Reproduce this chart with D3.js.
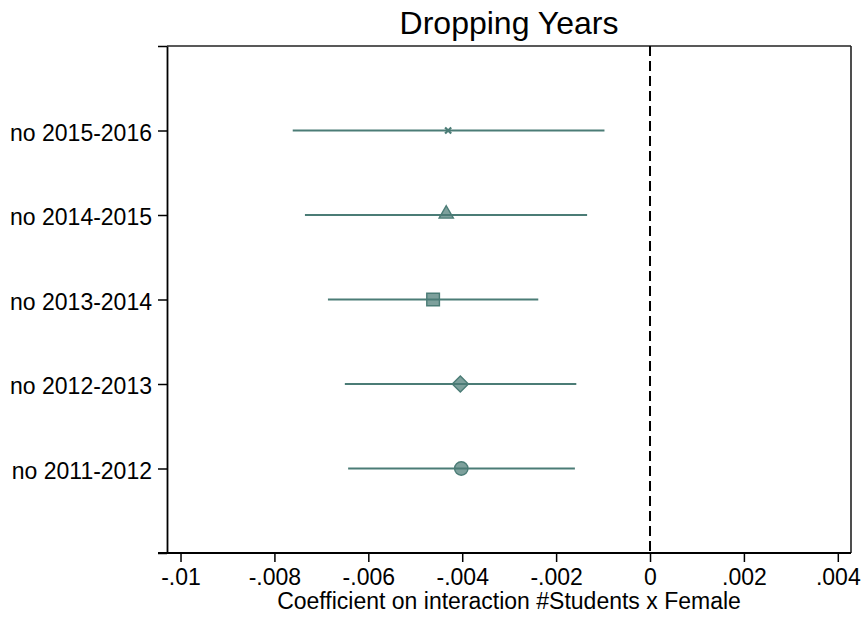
<!DOCTYPE html>
<html>
<head>
<meta charset="utf-8">
<script src="https://cdn.jsdelivr.net/npm/d3@7"></script>
<style>
  html, body { margin: 0; padding: 0; background: #fff; }
  svg { display: block; font-family: "Liberation Sans", Arial, Helvetica, sans-serif; }
</style>
</head>
<body>
<svg id="chart" width="865" height="618"></svg>
<script>
// ---- data ----
const categories = ["no 2011-2012", "no 2012-2013", "no 2013-2014", "no 2014-2015", "no 2015-2016"];
const estimates  = [-0.00402, -0.00404, -0.00462, -0.00434, -0.00430];
const lowerCI    = [-0.00643, -0.00650, -0.00686, -0.00735, -0.00761];
const upperCI    = [-0.00160, -0.00157, -0.00238, -0.00134, -0.00097];
const markerTypes = ["circle", "diamond", "square", "triangle", "x"];
const xTicks = [-0.01, -0.008, -0.006, -0.004, -0.002, 0, 0.002, 0.004];
const xTickLabels = ["-.01", "-.008", "-.006", "-.004", "-.002", "0", ".002", ".004"];
const title = "Dropping Years";
const xTitle = "Coefficient on interaction #Students x Female";

// ---- layout ----
const svg = d3.select("#chart");
const L = 167, R = 851, T = 46, B = 553;
const teal = "#4b7c76";
const FONT = "'Liberation Sans', Arial, sans-serif";

const x = d3.scaleLinear().domain([-0.010288, 0.004281]).range([L, R]);
const y = d3.scaleLinear().domain([0, 6]).range([B, T]);

const rows = categories.map((c, i) => ({
  label: c, pos: i + 1, est: estimates[i], lo: lowerCI[i], hi: upperCI[i], shape: markerTypes[i]
}));

// frame (top & right)
svg.append("line").attr("x1", L).attr("x2", R).attr("y1", T).attr("y2", T)
  .attr("stroke", "#222").attr("stroke-width", 1.6);
svg.append("line").attr("x1", R).attr("x2", R).attr("y1", T).attr("y2", B)
  .attr("stroke", "#222").attr("stroke-width", 1.6);

// x axis
const xAxis = d3.axisBottom(x).tickValues(xTicks)
  .tickFormat((d, i) => xTickLabels[i]).tickSizeInner(9).tickSizeOuter(0).tickPadding(7);
const gx = svg.append("g").attr("transform", `translate(0,${B})`).call(xAxis);
gx.select(".domain").attr("d", `M${L - 9},0H${R}`).attr("stroke", "#000").attr("stroke-width", 1.8);
gx.selectAll(".tick line").attr("stroke", "#000").attr("stroke-width", 1.5);
gx.selectAll(".tick text").attr("font-size", 23).attr("fill", "#000")
  .attr("font-family", FONT).attr("dy", "0.71em");

// y axis
const yAxis = d3.axisLeft(y).tickValues([0, 1, 2, 3, 4, 5, 6])
  .tickFormat(d => (d >= 1 && d <= 5) ? categories[d - 1] : "")
  .tickSizeInner(9).tickSizeOuter(0).tickPadding(6);
const gy = svg.append("g").attr("transform", `translate(${L},0)`).call(yAxis);
gy.select(".domain").attr("stroke", "#000").attr("stroke-width", 1.8);
gy.selectAll(".tick line").attr("stroke", "#000").attr("stroke-width", 1.5);
gy.selectAll(".tick text").attr("font-size", 23).attr("fill", "#000")
  .attr("font-family", FONT).attr("dy", "0.42em");

// zero reference line
svg.append("line")
  .attr("x1", x(0)).attr("x2", x(0)).attr("y1", y(6)).attr("y2", y(0))
  .attr("stroke", "#000").attr("stroke-width", 2).attr("stroke-dasharray", "10,5");

// CI lines
svg.append("g").selectAll("line").data(rows).join("line")
  .attr("x1", d => x(d.lo)).attr("x2", d => x(d.hi))
  .attr("y1", d => y(d.pos)).attr("y2", d => y(d.pos))
  .attr("stroke", teal).attr("stroke-width", 2.2);

// markers
const symbolFor = {
  circle: d3.symbol().type(d3.symbolCircle).size(140)(),
  square: d3.symbol().type(d3.symbolSquare).size(160)(),
  triangle: d3.symbol().type(d3.symbolTriangle).size(88)(),
  diamond: d3.symbol().type(d3.symbolSquare).size(130)(),
  x: (d3.symbolTimes ? d3.symbol().type(d3.symbolTimes).size(26)() : "M-3,-3L3,3M-3,3L3,-3")
};
svg.append("g").selectAll("path").data(rows).join("path")
  .attr("d", d => symbolFor[d.shape])
  .attr("transform", d => {
    let t = `translate(${x(d.est)},${y(d.pos) + (d.shape === "triangle" ? -1 : 0)})`;
    if (d.shape === "diamond") t += " rotate(45)";
    return t;
  })
  .attr("fill", d => d.shape === "x" ? "none" : teal)
  .attr("fill-opacity", 0.72)
  .attr("stroke", teal)
  .attr("stroke-width", d => d.shape === "x" ? 2.2 : 1.4);

// titles
svg.append("text").attr("x", (L + R) / 2).attr("y", 34).attr("text-anchor", "middle")
  .attr("font-size", 32).attr("fill", "#000").attr("font-family", FONT).text(title);
svg.append("text").attr("x", (L + R) / 2).attr("y", 609).attr("text-anchor", "middle")
  .attr("font-size", 23).attr("fill", "#000").attr("font-family", FONT).text(xTitle);
</script>
</body>
</html>
